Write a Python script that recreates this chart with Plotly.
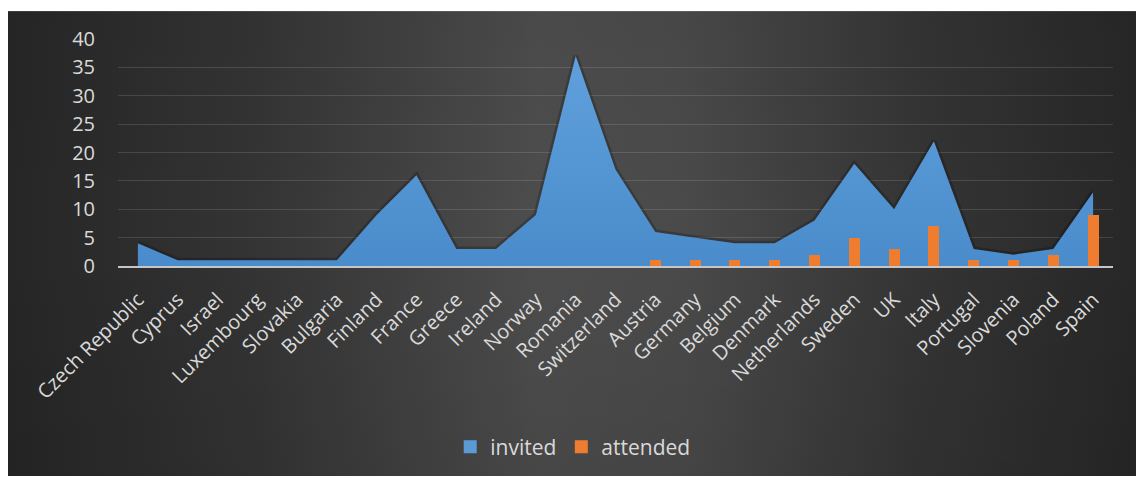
import base64
import plotly.graph_objects as go

countries = ["Czech Republic", "Cyprus", "Israel", "Luxembourg", "Slovakia", "Bulgaria",
             "Finland", "France", "Greece", "Ireland", "Norway", "Romania", "Switzerland",
             "Austria", "Germany", "Belgium", "Denmark", "Netherlands", "Sweden", "UK",
             "Italy", "Portugal", "Slovenia", "Poland", "Spain"]
invited = [4, 1, 1, 1, 1, 1, 9, 16, 3, 3, 9, 37, 17, 6, 5, 4, 4, 8, 18, 10, 22, 3, 2, 3, 13]
attended = [0, 0, 0, 0, 0, 0, 0, 0, 0, 0, 0, 0, 0, 1, 1, 1, 1, 2, 5, 3, 7, 1, 1, 2, 9]
y_ticks = [0, 5, 10, 15, 20, 25, 30, 35, 40]

W, H = 1136, 478
M_L, M_R, M_T, M_B = 118, 23, 39, 211
PW, PH = W - M_L - M_R, H - M_T - M_B

idx = list(range(len(countries)))
X_RANGE = [-0.5, len(countries) - 0.5]
Y_RANGE = [0, 40]
TXT = "#d9d9d9"
FONT = "Open Sans"

# dark chart-area background with a soft light band through the middle
svg = (
    '<svg xmlns="http://www.w3.org/2000/svg" width="1128" height="467" viewBox="0 0 1128 467" preserveAspectRatio="none">'
    '<defs>'
    '<linearGradient id="h" x1="0" y1="0" x2="1" y2="0">'
    '<stop offset="0" stop-color="#262626"/>'
    '<stop offset="0.22" stop-color="#343434"/>'
    '<stop offset="0.47" stop-color="#4d4d4d"/>'
    '<stop offset="0.6" stop-color="#4a4a4a"/>'
    '<stop offset="0.8" stop-color="#353535"/>'
    '<stop offset="1" stop-color="#272727"/>'
    '</linearGradient>'
    '<linearGradient id="v" x1="0" y1="0" x2="0" y2="1">'
    '<stop offset="0" stop-color="#000" stop-opacity="0.04"/>'
    '<stop offset="0.5" stop-color="#000" stop-opacity="0"/>'
    '<stop offset="1" stop-color="#000" stop-opacity="0.08"/>'
    '</linearGradient>'
    '</defs>'
    '<rect width="1128" height="467" fill="url(#h)"/>'
    '<rect width="1128" height="467" fill="url(#v)"/>'
    '</svg>'
)
bg_src = "data:image/svg+xml;base64," + base64.b64encode(svg.encode()).decode()

BX0, BY0 = 8, 11  # top-left corner of the dark panel in pixels

fig = go.Figure()

# soft dark edge around the area
fig.add_trace(go.Scatter(
    x=idx, y=invited, mode="lines",
    line=dict(color="rgba(0,0,0,0.22)", width=5),
    hoverinfo="skip", showlegend=False,
))

fig.add_trace(go.Scatter(
    x=idx, y=invited, mode="lines", name="invited",
    line=dict(width=0, color="#5b9bd5"),
    fill="tozeroy",
    fillgradient=dict(type="vertical",
                      colorscale=[[0, "#4a8bcb"], [1, "#5fa0dc"]]),
    showlegend=False,
))

# bars live on an overlaid axis pair so they paint in front of the area
fig.add_trace(go.Bar(
    x=idx, y=attended, name="attended", width=0.28,
    marker=dict(color="#ee7d2f", line=dict(width=0)),
    xaxis="x2", yaxis="y2", showlegend=False,
))

# legend swatches
fig.add_trace(go.Scatter(x=[None], y=[None], mode="markers", name="invited",
                         marker=dict(symbol="square", size=13, color="#5b9bd5")))
fig.add_trace(go.Scatter(x=[None], y=[None], mode="markers", name="attended",
                         marker=dict(symbol="square", size=13, color="#ed7d31")))

fig.update_layout(
    width=W, height=H,
    margin=dict(l=M_L, r=M_R, t=M_T, b=M_B, pad=0),
    paper_bgcolor="white",
    plot_bgcolor="rgba(0,0,0,0)",
    font=dict(family=FONT, color=TXT),
    bargap=0,
    images=[dict(
        source=bg_src, xref="paper", yref="paper",
        x=(BX0 - M_L) / PW, y=1 + (M_T - BY0) / PH,
        sizex=(W - BX0) / PW, sizey=(H - BY0) / PH,
        xanchor="left", yanchor="top", sizing="stretch", layer="below",
    )],
    legend=dict(
        orientation="h", x=0.457, xanchor="center", y=-0.79, yanchor="middle",
        font=dict(size=21, color=TXT, family=FONT),
        bgcolor="rgba(0,0,0,0)", itemwidth=30, tracegroupgap=0,
    ),
    showlegend=True,
    xaxis2=dict(overlaying="x", range=X_RANGE, visible=False),
    yaxis2=dict(overlaying="y", range=Y_RANGE, visible=False),
)

fig.update_xaxes(
    selector=dict(anchor="y"),
    range=X_RANGE,
    tickmode="array", tickvals=idx, ticktext=countries,
    tickangle=-45, tickfont=dict(size=20, color=TXT, family=FONT),
    ticks="outside", ticklen=12, tickcolor="rgba(0,0,0,0)",
    showgrid=False, zeroline=False,
    showline=True, linecolor="#c6c6c6", linewidth=2,
)
fig.layout.xaxis.update(
    range=X_RANGE,
    tickmode="array", tickvals=idx, ticktext=countries,
    tickangle=-45, tickfont=dict(size=20, color=TXT, family=FONT),
    ticks="outside", ticklen=12, tickcolor="rgba(0,0,0,0)",
    showgrid=False, zeroline=False,
    showline=True, linecolor="#c6c6c6", linewidth=2,
)
fig.layout.yaxis.update(
    range=Y_RANGE, tickmode="array", tickvals=y_ticks,
    tickfont=dict(size=20, color=TXT, family=FONT),
    ticks="outside", ticklen=18, tickcolor="rgba(0,0,0,0)",
    showgrid=True, gridcolor="rgba(255,255,255,0.13)", gridwidth=1,
    zeroline=False, showline=False,
)

fig.write_html("out.html")
